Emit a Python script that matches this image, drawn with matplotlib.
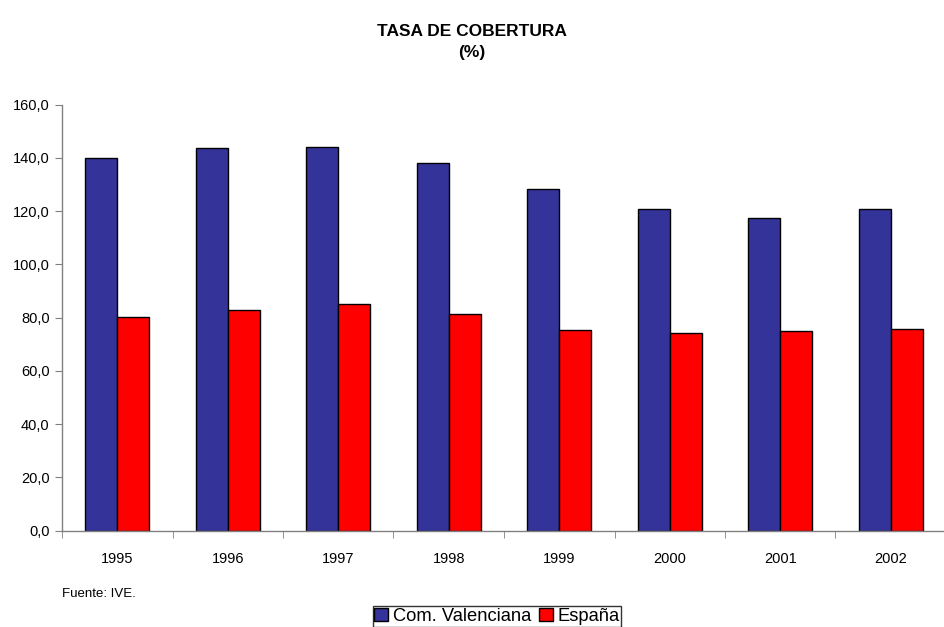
import matplotlib
matplotlib.use("Agg")
import matplotlib.pyplot as plt
import numpy as np
from matplotlib.patches import Patch

plt.rcParams['font.family'] = ['Liberation Sans', 'DejaVu Sans']

years = ["1995", "1996", "1997", "1998", "1999", "2000", "2001", "2002"]
com_valenciana = [140.0, 143.9, 144.0, 138.1, 128.2, 120.9, 117.6, 120.8]
espana = [80.3, 82.9, 85.3, 81.3, 75.3, 74.1, 75.0, 75.6]
yticks = [0, 20, 40, 60, 80, 100, 120, 140, 160]
ytick_labels = ["0,0", "20,0", "40,0", "60,0", "80,0", "100,0", "120,0", "140,0", "160,0"]

blue = "#333399"
red = "#FF0000"

fig = plt.figure(figsize=(9.44, 6.27), dpi=100)
ax = fig.add_axes([62/944, 1-530.7/627, (946-62)/944, (530.7-104.7)/627])

x = np.arange(len(years))
w = 0.29
ax.bar(x - w/2, com_valenciana, w, color=blue, edgecolor="black", linewidth=1.0, label="Com. Valenciana")
ax.bar(x + w/2, espana, w, color=red, edgecolor="black", linewidth=1.0, label="España")

ax.set_xlim(-0.5, len(years) - 0.5)
ax.set_ylim(0, 160)
ax.set_yticks(yticks)
ax.set_yticklabels(ytick_labels, fontsize=10.5)
ax.set_xticks(x)
ax.set_xticklabels(years, fontsize=10.5)
ax.tick_params(axis='x', which='major', length=0, pad=15)
ax.set_xticks(np.arange(-0.5, len(years) + 0.5, 1), minor=True)
ax.tick_params(axis='x', which='minor', length=5, direction='out', color='#808080')
ax.tick_params(axis='y', length=5, direction='out', color='#808080', pad=4)

for s in ['top', 'right']:
    ax.spines[s].set_visible(False)
for s in ['left', 'bottom']:
    ax.spines[s].set_color('#808080')
    ax.spines[s].set_linewidth(1.0)

fig.text(472/944, 1-32/627, "TASA DE COBERTURA", ha='center', va='center', fontsize=12.5, fontweight='bold')
fig.text(472/944, 1-52/627, "(%)", ha='center', va='center', fontsize=12.5, fontweight='bold')
fig.text(62/944, 1-594/627, "Fuente: IVE.", ha='left', va='center', fontsize=9.5)

handles = [Patch(facecolor=blue, edgecolor='black'), Patch(facecolor=red, edgecolor='black')]
leg = fig.legend(handles, ["Com. Valenciana", "España"], loc='lower left',
                 bbox_to_anchor=(373/944, 0.5/627), ncol=2, fontsize=13.2,
                 frameon=True, fancybox=False, borderpad=0.08, handlelength=0.75,
                 handleheight=0.75, handletextpad=0.25, columnspacing=0.45, borderaxespad=0)
leg.get_frame().set_edgecolor('black')
leg.get_frame().set_linewidth(1.0)

fig.savefig("out.png", dpi=100)
